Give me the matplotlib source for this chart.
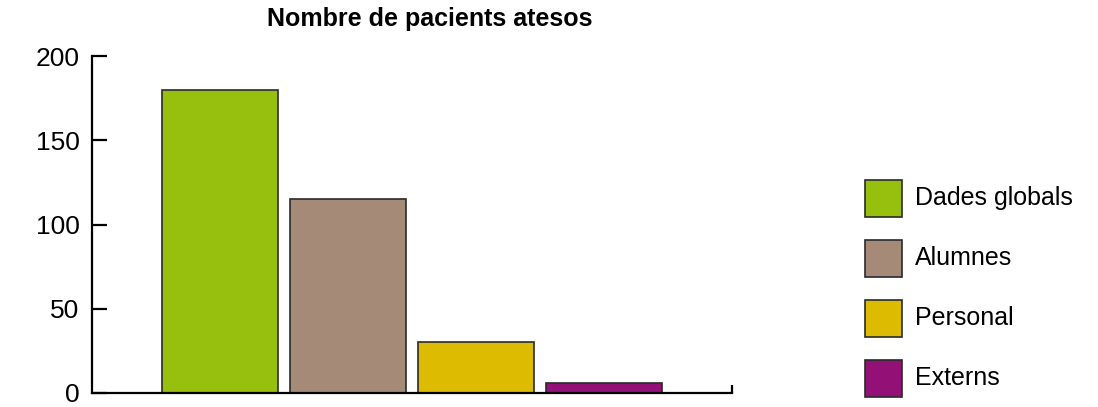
import matplotlib
matplotlib.use("Agg")
import matplotlib.pyplot as plt
from matplotlib.patches import Rectangle

categories = ["Dades globals", "Alumnes", "Personal", "Externs"]
values = [180, 115, 30, 6]
colors = ["#97BF0D", "#A58A78", "#DCBB00", "#931177"]
yticks = [0, 50, 100, 150, 200]
title = "Nombre de pacients atesos"

plt.rcParams['font.family'] = ['Liberation Sans', 'DejaVu Sans']

W, H = 1098, 407
fig = plt.figure(figsize=(W / 100, H / 100), dpi=100)
ax = fig.add_axes([92 / W, 1 - 393 / H, (732 - 92) / W, (393 - 56) / H])

positions = list(range(1, len(values) + 1))
ax.bar(positions, values, width=0.9, color=colors, edgecolor="#2a2a2a", linewidth=1.2, zorder=2)

ax.set_xlim(0, 5)
ax.set_ylim(0, 200)
ax.set_yticks(yticks)
ax.set_yticklabels([str(t) for t in yticks])
ax.set_xticks([5])
ax.set_xticklabels([])
ax.tick_params(axis='y', direction='in', length=11, width=1.6, labelsize=19, pad=9)
ax.tick_params(axis='x', direction='in', length=6, width=1.6)
for s in ["top", "right"]:
    ax.spines[s].set_visible(False)
for s in ["left", "bottom"]:
    ax.spines[s].set_linewidth(1.6)
    ax.spines[s].set_zorder(3)

fig.text(430 / W, 1 - 19 / H, title, ha='center', va='center', fontsize=18, fontweight='bold')

# legend drawn manually
sq = 37
for i, (lab, c) in enumerate(zip(categories, colors)):
    cy = 198 + 60 * i
    fig.patches.append(Rectangle((865 / W, 1 - (cy + sq / 2) / H), sq / W, sq / H,
                                 transform=fig.transFigure, facecolor=c,
                                 edgecolor="#2a2a2a", linewidth=1.2))
    fig.text(915 / W, 1 - cy / H, lab, ha='left', va='center', fontsize=18)

fig.savefig("out.png", dpi=100)
